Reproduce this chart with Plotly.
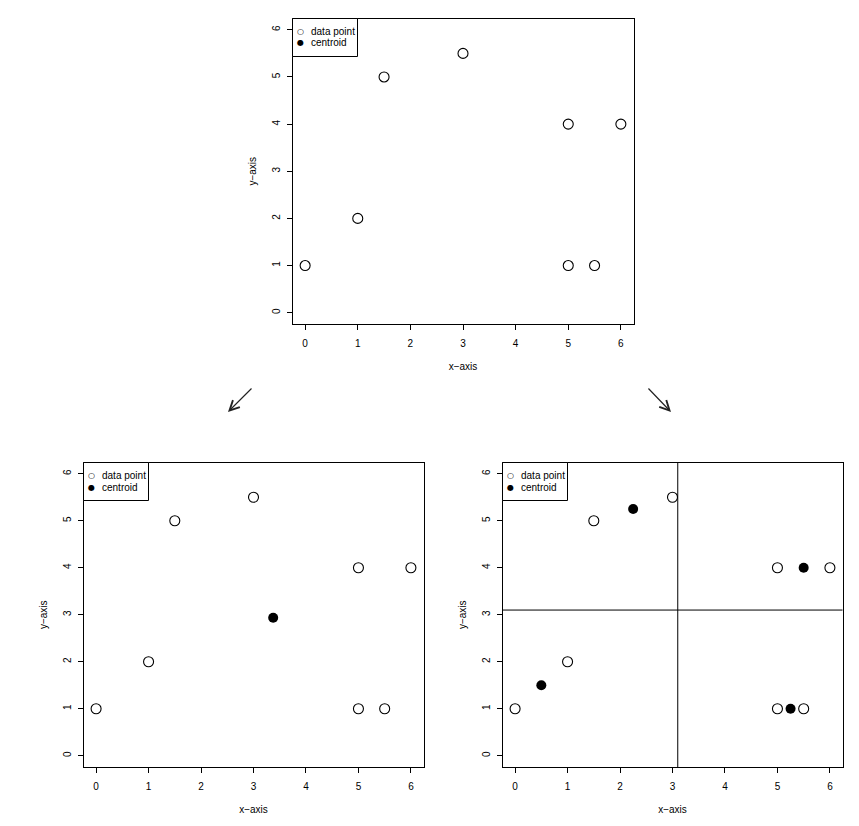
import plotly.graph_objects as go

# ---- data ----
data_x = [0, 1, 1.5, 3, 5, 6, 5, 5.5]
data_y = [1, 2, 5, 5.5, 4, 4, 1, 1]

centroid1_x = [3.375]
centroid1_y = [2.9375]

centroid4_x = [0.5, 2.25, 5.5, 5.25]
centroid4_y = [1.5, 5.25, 4.0, 1.0]

split_x = 3.1
split_y = 3.1

tick_vals = [0, 1, 2, 3, 4, 5, 6]
axis_range = [-0.24, 6.24]

legend_labels = ["data point", "centroid"]
legend_symbols = ["○", "●"]

W, H = 859, 826
FONT = "Liberation Sans, Arial, sans-serif"

# panel boxes in pixels: (left, right, top, bottom)
panels = [
    (292.5, 633.5, 18.5, 324.0),
    (83.5, 423.5, 462.5, 767.0),
    (502.5, 842.5, 462.5, 767.0),
]

fig = go.Figure()

def ax_names(i):
    return ("x" if i == 0 else f"x{i+1}", "y" if i == 0 else f"y{i+1}")

def px(x):
    return x / W

def py(y):
    return 1 - y / H

for i, (l, r, t, b) in enumerate(panels):
    xa, ya = ax_names(i)
    fig.add_trace(go.Scatter(
        x=data_x, y=data_y, mode="markers", xaxis=xa, yaxis=ya, name="data point",
        marker=dict(symbol="circle-open", size=10, color="black", line=dict(width=1.1)),
        showlegend=False))
    if i == 1:
        fig.add_trace(go.Scatter(x=centroid1_x, y=centroid1_y, mode="markers", name="centroid",
                                 xaxis=xa, yaxis=ya, showlegend=False,
                                 marker=dict(symbol="circle", size=10, color="black")))
    if i == 2:
        fig.add_trace(go.Scatter(x=centroid4_x, y=centroid4_y, mode="markers", name="centroid",
                                 xaxis=xa, yaxis=ya, showlegend=False,
                                 marker=dict(symbol="circle", size=10, color="black")))

    xdom = [px(l), px(r)]
    ydom = [py(b), py(t)]
    axis_common = dict(
        range=axis_range, tickvals=tick_vals, showgrid=False, zeroline=False,
        showline=True, mirror=True, linecolor="black", linewidth=1,
        ticks="outside", ticklen=5, tickcolor="black", tickwidth=1,
        tickfont=dict(family=FONT, size=10, color="black"),
        ticklabelstandoff=5,
    )
    layout_upd = {}
    layout_upd["xaxis" if i == 0 else f"xaxis{i+1}"] = dict(
        axis_common, domain=xdom, anchor=ya,
        title=dict(text="x−axis", font=dict(family=FONT, size=10, color="black"),
                   standoff=14))
    layout_upd["yaxis" if i == 0 else f"yaxis{i+1}"] = dict(
        axis_common, domain=ydom, anchor=xa, tickangle=-90,
        title=dict(text="y−axis", font=dict(family=FONT, size=10, color="black"),
                   standoff=12), ticklabelstandoff=3)
    fig.update_layout(**layout_upd)

    # legend box (drawn like R's legend())
    fig.add_shape(type="rect", xref="paper", yref="paper",
                  x0=px(l), x1=px(l + 65), y0=py(t + 38), y1=py(t),
                  line=dict(color="black", width=1), fillcolor="white", layer="above")
    for k, (sym, lab) in enumerate(zip(legend_symbols, legend_labels)):
        yc = t + 13 + 11.5 * k
        fig.add_annotation(x=px(l + 7.5), y=py(yc), xref="paper", yref="paper",
                           text=sym, showarrow=False, xanchor="center", yanchor="middle",
                           font=dict(family="DejaVu Sans", size=8, color="black"))
        fig.add_annotation(x=px(l + 16), y=py(yc), xref="paper", yref="paper",
                           text=lab, showarrow=False, xanchor="left", yanchor="middle",
                           font=dict(family=FONT, size=10, color="black"))

# quadrant split lines in the last panel
fig.add_shape(type="line", xref="x3", yref="y3 domain", x0=split_x, x1=split_x, y0=0, y1=1,
              line=dict(color="black", width=1))
fig.add_shape(type="line", xref="x3 domain", yref="y3", x0=0, x1=1, y0=split_y, y1=split_y,
              line=dict(color="black", width=1))

# arrows
for (hx, hy, tx, ty) in [(228, 412, 253, 387), (671, 412, 647, 387)]:
    fig.add_annotation(x=px(hx), y=py(hy), xref="paper", yref="paper",
                       ax=tx - hx, ay=ty - hy, axref="pixel", ayref="pixel",
                       showarrow=True, arrowhead=5, arrowsize=1.6, arrowwidth=1.2,
                       arrowcolor="#222", text="")

fig.update_layout(width=W, height=H, margin=dict(l=0, r=0, t=0, b=0),
                  plot_bgcolor="white", paper_bgcolor="white", showlegend=False,
                  font=dict(family=FONT, size=10, color="black"))

fig.write_html("out.html")
